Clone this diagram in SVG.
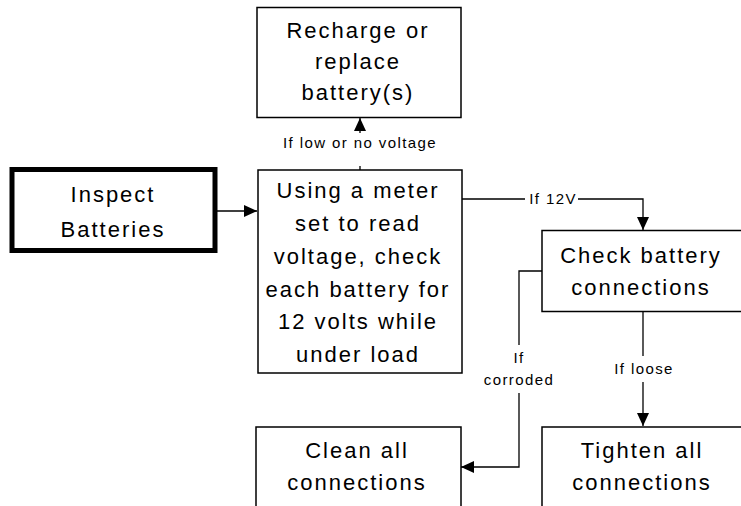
<svg xmlns="http://www.w3.org/2000/svg" width="741" height="506" viewBox="0 0 741 506">
<defs>
<style>
.box{fill:#fff;stroke:#000;stroke-width:1.5}
.thick{fill:#fff;stroke:#000;stroke-width:5}
.t{font-family:"Liberation Sans",Arial,sans-serif;font-size:22px;letter-spacing:2px;text-anchor:middle;fill:#000}
.l{font-family:"Liberation Sans",Arial,sans-serif;font-size:15px;letter-spacing:1.4px;text-anchor:middle;fill:#000}
.c{fill:none;stroke:#000;stroke-width:1.3}
.bg{fill:#fff;stroke:none}
</style>
<marker id="ah" markerUnits="userSpaceOnUse" markerWidth="14" markerHeight="12" refX="13" refY="6" orient="auto">
<path d="M0,0 L13,6 L0,12 z" fill="#000"/>
</marker>
</defs>
<rect width="741" height="506" fill="#fff"/>
<g id="connectors">
<path class="c" d="M217,211 H257" marker-end="url(#ah)"/>
<path class="c" d="M360,170 V118" marker-end="url(#ah)"/>
<path class="c" d="M462,199 H643 V230" marker-end="url(#ah)"/>
<path class="c" d="M542,271 H519 V467 H461" marker-end="url(#ah)"/>
<path class="c" d="M643,312 V426" marker-end="url(#ah)"/>
<rect class="bg" x="278" y="133" width="164" height="33"/>
<text class="l" x="360" y="148">If low or no voltage</text>
<rect class="bg" x="525" y="190" width="53" height="18"/>
<text class="l" x="553" y="204">If 12V</text>
<rect class="bg" x="480" y="345" width="78" height="48"/>
<text class="l" x="519" y="363">If</text>
<text class="l" x="519" y="385">corroded</text>
<rect class="bg" x="610" y="356" width="66" height="26"/>
<text class="l" x="644" y="374">If loose</text>
</g>
<g id="recharge">
<rect class="box" x="257" y="7.5" width="204" height="110"/>
<text class="t" x="358" y="38">Recharge or</text>
<text class="t" x="358" y="69">replace</text>
<text class="t" x="358" y="100">battery(s)</text>
</g>
<g id="inspect">
<rect class="thick" x="12" y="169.5" width="203" height="81"/>
<text class="t" x="113" y="202">Inspect</text>
<text class="t" x="113" y="237">Batteries</text>
</g>
<g id="using">
<rect class="box" x="258" y="170" width="204" height="203"/>
<text class="t" x="358" y="198">Using a meter</text>
<text class="t" x="358" y="231">set to read</text>
<text class="t" x="358" y="264">voltage, check</text>
<text class="t" x="358" y="297">each battery for</text>
<text class="t" x="358" y="329">12 volts while</text>
<text class="t" x="358" y="362">under load</text>
</g>
<g id="check">
<rect class="box" x="542" y="230.5" width="203" height="81"/>
<text class="t" x="641" y="263">Check battery</text>
<text class="t" x="641" y="295">connections</text>
</g>
<g id="clean">
<rect class="box" x="256" y="427" width="205" height="100"/>
<text class="t" x="357" y="458">Clean all</text>
<text class="t" x="357" y="490">connections</text>
</g>
<g id="tighten">
<rect class="box" x="542" y="427" width="203" height="100"/>
<text class="t" x="642" y="458">Tighten all</text>
<text class="t" x="642" y="490">connections</text>
</g>
</svg>
